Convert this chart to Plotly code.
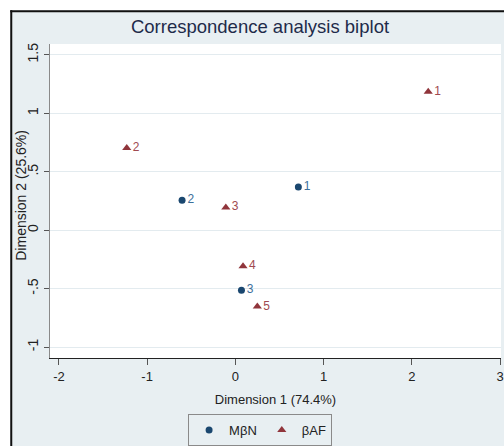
import plotly.graph_objects as go

# Row / column coordinates from the correspondence analysis
mbn_labels = ["1", "2", "3"]
mbn_dim1 = [0.714, -0.604, 0.069]
mbn_dim2 = [0.370, 0.257, -0.514]

baf_labels = ["1", "2", "3", "4", "5"]
baf_dim1 = [2.186, -1.231, -0.108, 0.087, 0.249]
baf_dim2 = [1.184, 0.703, 0.195, -0.308, -0.653]

x_ticks = [-2, -1, 0, 1, 2, 3]
x_ticktext = ["-2", "-1", "0", "1", "2", "3"]
y_ticks = [-1, -0.5, 0, 0.5, 1, 1.5]
y_ticktext = ["-1", "-.5", "0", ".5", "1", "1.5"]

NAVY = "#1a476f"
MAROON = "#90353b"
BG = "#e8eff2"
FONT = "Liberation Sans"

W, H = 504, 446
ML, MR, MT, MB = 50, 0, 44, 85
PW, PH = W - ML - MR, H - MT - MB


def px_x(p):
    return (p - ML) / PW


def px_y(p):
    return (H - MB - p) / PH


fig = go.Figure()
fig.add_trace(go.Scatter(
    x=mbn_dim1, y=mbn_dim2, mode="markers+text", name="MβN",
    text=mbn_labels, textposition="middle right",
    marker=dict(symbol="circle", size=7, color=NAVY),
    textfont=dict(family=FONT, size=12, color="#3c6f9a"),
    cliponaxis=False,
))
fig.add_trace(go.Scatter(
    x=baf_dim1, y=baf_dim2, mode="markers+text", name="βAF",
    text=baf_labels, textposition="middle right",
    marker=dict(symbol="triangle-up", size=8, color=MAROON),
    textfont=dict(family=FONT, size=12, color="#a04a50"),
    cliponaxis=False,
))

# Outer frame: white surround and a dark border line
shapes = [
    dict(type="rect", xref="paper", yref="paper", layer="below",
         x0=px_x(-5), x1=px_x(10), y0=px_y(H + 5), y1=px_y(-5),
         fillcolor="white", line=dict(width=0)),
    dict(type="rect", xref="paper", yref="paper", layer="below",
         x0=px_x(-5), x1=px_x(W + 5), y0=px_y(10), y1=px_y(-5),
         fillcolor="white", line=dict(width=0)),
    dict(type="line", xref="paper", yref="paper",
         x0=px_x(11), x1=px_x(11), y0=px_y(H + 5), y1=px_y(10),
         line=dict(color="#111111", width=2)),
    dict(type="line", xref="paper", yref="paper",
         x0=px_x(10), x1=px_x(W + 5), y0=px_y(11), y1=px_y(11),
         line=dict(color="#111111", width=2)),
]

# Vertical axis title placed beside the rotated tick labels
annotations = [
    dict(text="Dimension 2 (25.6%)", xref="paper", yref="paper",
         x=px_x(20), y=px_y(197), xanchor="center", yanchor="middle",
         textangle=-90, showarrow=False,
         font=dict(family=FONT, size=14, color="#222222")),
]

fig.update_layout(
    width=W, height=H,
    margin=dict(l=ML, r=MR, t=MT, b=MB),
    paper_bgcolor=BG, plot_bgcolor="white",
    font=dict(family=FONT, size=13, color="#222222"),
    title=dict(text="Correspondence analysis biplot", x=260 / W, xanchor="center",
               y=1 - 27 / H, yanchor="middle",
               font=dict(family=FONT, size=18.5, color="#1e2b4a")),
    shapes=shapes,
    annotations=annotations,
    showlegend=True,
    legend=dict(orientation="h", x=px_x(189), xanchor="left",
                y=px_y(418), yanchor="top",
                bgcolor=BG, bordercolor="#8a8a8a", borderwidth=1,
                font=dict(family=FONT, size=13, color="#222222"),
                itemwidth=30),
)

fig.update_xaxes(
    range=[-2.101, 3.011], tickvals=x_ticks, ticktext=x_ticktext,
    ticks="outside", ticklen=6, ticklabeloverflow="allow",
    tickfont=dict(family=FONT, size=13, color="#222222"),
    tickcolor="#555555", showline=True, linecolor="#222222", linewidth=1,
    showgrid=False, zeroline=False,
    title=dict(text="Dimension 1 (74.4%)", standoff=12,
               font=dict(family=FONT, size=13, color="#222222")),
)
fig.update_yaxes(
    range=[-1.093, 1.593], tickvals=y_ticks, ticktext=y_ticktext,
    tickangle=-90, ticks="outside", ticklen=5, tickcolor="#555555",
    tickfont=dict(family=FONT, size=14, color="#222222"),
    showline=True, linecolor="#8a8a8a", linewidth=1,
    showgrid=True, gridcolor="#e3ebef", gridwidth=1, zeroline=False,
)

fig.write_html("out.html")
